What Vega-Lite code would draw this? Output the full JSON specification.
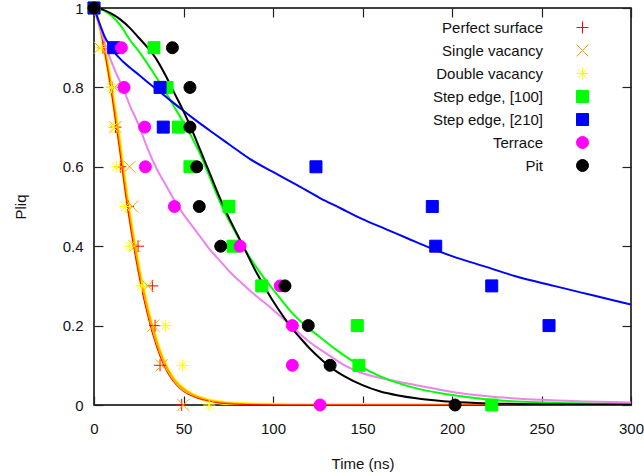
{
  "$schema": "https://vega.github.io/schema/vega-lite/v6.json",
  "width": 537,
  "height": 397,
  "autosize": {"type": "none"},
  "padding": {"left": 94, "top": 8, "right": 13, "bottom": 70},
  "background": "white",
  "config": {
    "view": {"stroke": "black", "strokeWidth": 1.5},
    "font": "Liberation Sans",
    "axis": {
      "grid": false,
      "domain": false,
      "tickSize": -9,
      "tickColor": "#222",
      "tickWidth": 1.2,
      "labelFlush": false,
      "labelFont": "Liberation Sans",
      "labelFontSize": 15,
      "labelColor": "#111",
      "titleFont": "Liberation Sans",
      "titleFontSize": 15,
      "titleFontWeight": "normal",
      "titleColor": "#111"
    },
    "legend": {
      "orient": "none",
      "legendX": 481,
      "legendY": 12,
      "labelAlign": "right",
      "labelOffset": -47,
      "labelFont": "Liberation Sans",
      "labelFontSize": 15,
      "labelColor": "#111",
      "labelLimit": 0,
      "rowPadding": 6,
      "padding": 0,
      "symbolStrokeWidth": 1,
      "symbolOpacity": 1
    }
  },
  "datasets": {
    "pts": [
      {"s": "Perfect surface", "t": 0, "p": 1}, {"s": "Perfect surface", "t": 5, "p": 0.9}, {"s": "Perfect surface", "t": 10, "p": 0.8}, {"s": "Perfect surface", "t": 12, "p": 0.7}, {"s": "Perfect surface", "t": 14.7, "p": 0.6}, {"s": "Perfect surface", "t": 19, "p": 0.5}, {"s": "Perfect surface", "t": 24.6, "p": 0.4}, {"s": "Perfect surface", "t": 32.6, "p": 0.3}, {"s": "Perfect surface", "t": 34.1, "p": 0.2}, {"s": "Perfect surface", "t": 36.9, "p": 0.1}, {"s": "Perfect surface", "t": 49, "p": 0},
      {"s": "Single vacancy", "t": 0, "p": 1}, {"s": "Single vacancy", "t": 3.2, "p": 0.9}, {"s": "Single vacancy", "t": 11.5, "p": 0.8}, {"s": "Single vacancy", "t": 12, "p": 0.7}, {"s": "Single vacancy", "t": 19.9, "p": 0.6}, {"s": "Single vacancy", "t": 21.4, "p": 0.5}, {"s": "Single vacancy", "t": 22.7, "p": 0.4}, {"s": "Single vacancy", "t": 30, "p": 0.3}, {"s": "Single vacancy", "t": 33.1, "p": 0.2}, {"s": "Single vacancy", "t": 37.8, "p": 0.1}, {"s": "Single vacancy", "t": 49.9, "p": 0},
      {"s": "Double vacancy", "t": 0, "p": 1}, {"s": "Double vacancy", "t": 4, "p": 0.9}, {"s": "Double vacancy", "t": 9.7, "p": 0.8}, {"s": "Double vacancy", "t": 10.6, "p": 0.7}, {"s": "Double vacancy", "t": 12.5, "p": 0.6}, {"s": "Double vacancy", "t": 17.5, "p": 0.5}, {"s": "Double vacancy", "t": 19.9, "p": 0.4}, {"s": "Double vacancy", "t": 26.6, "p": 0.3}, {"s": "Double vacancy", "t": 40, "p": 0.2}, {"s": "Double vacancy", "t": 49.5, "p": 0.1}, {"s": "Double vacancy", "t": 64.4, "p": 0},
      {"s": "Step edge, [100]", "t": 0, "p": 1}, {"s": "Step edge, [100]", "t": 33.5, "p": 0.9}, {"s": "Step edge, [100]", "t": 40.8, "p": 0.8}, {"s": "Step edge, [100]", "t": 47.2, "p": 0.7}, {"s": "Step edge, [100]", "t": 53.6, "p": 0.6}, {"s": "Step edge, [100]", "t": 75.4, "p": 0.5}, {"s": "Step edge, [100]", "t": 77.7, "p": 0.4}, {"s": "Step edge, [100]", "t": 93.7, "p": 0.3}, {"s": "Step edge, [100]", "t": 147.1, "p": 0.2}, {"s": "Step edge, [100]", "t": 148, "p": 0.1}, {"s": "Step edge, [100]", "t": 222.2, "p": 0},
      {"s": "Step edge, [210]", "t": 0, "p": 1}, {"s": "Step edge, [210]", "t": 11, "p": 0.9}, {"s": "Step edge, [210]", "t": 36.9, "p": 0.8}, {"s": "Step edge, [210]", "t": 38.7, "p": 0.7}, {"s": "Step edge, [210]", "t": 124, "p": 0.6}, {"s": "Step edge, [210]", "t": 189, "p": 0.5}, {"s": "Step edge, [210]", "t": 190.9, "p": 0.4}, {"s": "Step edge, [210]", "t": 222.2, "p": 0.3}, {"s": "Step edge, [210]", "t": 254.2, "p": 0.2},
      {"s": "Terrace", "t": 0, "p": 1}, {"s": "Terrace", "t": 15.3, "p": 0.9}, {"s": "Terrace", "t": 16.8, "p": 0.8}, {"s": "Terrace", "t": 28.3, "p": 0.7}, {"s": "Terrace", "t": 28.7, "p": 0.6}, {"s": "Terrace", "t": 44.9, "p": 0.5}, {"s": "Terrace", "t": 81.6, "p": 0.4}, {"s": "Terrace", "t": 104, "p": 0.3}, {"s": "Terrace", "t": 110.8, "p": 0.2}, {"s": "Terrace", "t": 110.8, "p": 0.1}, {"s": "Terrace", "t": 126.3, "p": 0},
      {"s": "Pit", "t": 0, "p": 1}, {"s": "Pit", "t": 43.8, "p": 0.9}, {"s": "Pit", "t": 53.6, "p": 0.8}, {"s": "Pit", "t": 53.6, "p": 0.7}, {"s": "Pit", "t": 57.4, "p": 0.6}, {"s": "Pit", "t": 58.8, "p": 0.5}, {"s": "Pit", "t": 70.8, "p": 0.4}, {"s": "Pit", "t": 106.7, "p": 0.3}, {"s": "Pit", "t": 119.7, "p": 0.2}, {"s": "Pit", "t": 131.9, "p": 0.1}, {"s": "Pit", "t": 201.7, "p": 0}
    ],
    "fitVac": [
      {"t": 0, "p": 1}, {"t": 2, "p": 0.975}, {"t": 4, "p": 0.94}, {"t": 6, "p": 0.895}, {"t": 8, "p": 0.845}, {"t": 10, "p": 0.79}, {"t": 12, "p": 0.73}, {"t": 14, "p": 0.67}, {"t": 16, "p": 0.6}, {"t": 18, "p": 0.535}, {"t": 20, "p": 0.475}, {"t": 22, "p": 0.42}, {"t": 24, "p": 0.37}, {"t": 26, "p": 0.32}, {"t": 28, "p": 0.28}, {"t": 30, "p": 0.24}, {"t": 32, "p": 0.205}, {"t": 34, "p": 0.175}, {"t": 36, "p": 0.145}, {"t": 38, "p": 0.12}, {"t": 40, "p": 0.1}, {"t": 43, "p": 0.075}, {"t": 46, "p": 0.057}, {"t": 50, "p": 0.04}, {"t": 55, "p": 0.026}, {"t": 60, "p": 0.017}, {"t": 65, "p": 0.011}, {"t": 70, "p": 0.007}, {"t": 80, "p": 0.003}, {"t": 90, "p": 0.001}, {"t": 110, "p": 0}, {"t": 300, "p": 0}
    ],
    "fitPerfect": [
      {"t": 0, "p": 1}, {"t": 2, "p": 0.972}, {"t": 4, "p": 0.935}, {"t": 6, "p": 0.888}, {"t": 8, "p": 0.835}, {"t": 10, "p": 0.778}, {"t": 12, "p": 0.715}, {"t": 14, "p": 0.652}, {"t": 16, "p": 0.585}, {"t": 18, "p": 0.518}, {"t": 20, "p": 0.458}, {"t": 22, "p": 0.402}, {"t": 24, "p": 0.352}, {"t": 26, "p": 0.305}, {"t": 28, "p": 0.263}, {"t": 30, "p": 0.225}, {"t": 32, "p": 0.19}, {"t": 34, "p": 0.16}, {"t": 36, "p": 0.133}, {"t": 38, "p": 0.11}, {"t": 40, "p": 0.09}, {"t": 43, "p": 0.067}, {"t": 46, "p": 0.05}, {"t": 50, "p": 0.034}, {"t": 55, "p": 0.022}, {"t": 60, "p": 0.014}, {"t": 65, "p": 0.009}, {"t": 70, "p": 0.005}, {"t": 80, "p": 0.002}, {"t": 90, "p": 0.001}, {"t": 110, "p": 0}, {"t": 300, "p": 0}
    ],
    "fitTerrace": [
      {"t": 0, "p": 1}, {"t": 4, "p": 0.94}, {"t": 8, "p": 0.885}, {"t": 12, "p": 0.84}, {"t": 16, "p": 0.8}, {"t": 20, "p": 0.755}, {"t": 25, "p": 0.705}, {"t": 30, "p": 0.645}, {"t": 35, "p": 0.595}, {"t": 40, "p": 0.555}, {"t": 45, "p": 0.515}, {"t": 50, "p": 0.48}, {"t": 55, "p": 0.45}, {"t": 60, "p": 0.42}, {"t": 65, "p": 0.39}, {"t": 70, "p": 0.365}, {"t": 76, "p": 0.335}, {"t": 83, "p": 0.305}, {"t": 90, "p": 0.277}, {"t": 100, "p": 0.24}, {"t": 110, "p": 0.2}, {"t": 120, "p": 0.16}, {"t": 128, "p": 0.135}, {"t": 140, "p": 0.1}, {"t": 150, "p": 0.08}, {"t": 160, "p": 0.068}, {"t": 180, "p": 0.05}, {"t": 200, "p": 0.033}, {"t": 220, "p": 0.022}, {"t": 250, "p": 0.013}, {"t": 275, "p": 0.009}, {"t": 300, "p": 0.006}
    ],
    "fitStep100": [
      {"t": 0, "p": 1}, {"t": 5, "p": 0.995}, {"t": 10, "p": 0.98}, {"t": 15, "p": 0.955}, {"t": 20, "p": 0.92}, {"t": 26, "p": 0.885}, {"t": 32, "p": 0.845}, {"t": 37, "p": 0.81}, {"t": 43, "p": 0.765}, {"t": 48, "p": 0.727}, {"t": 54, "p": 0.68}, {"t": 59, "p": 0.635}, {"t": 65, "p": 0.57}, {"t": 71, "p": 0.505}, {"t": 76, "p": 0.46}, {"t": 82, "p": 0.41}, {"t": 88, "p": 0.365}, {"t": 95, "p": 0.32}, {"t": 102, "p": 0.28}, {"t": 110, "p": 0.235}, {"t": 118, "p": 0.2}, {"t": 126, "p": 0.172}, {"t": 135, "p": 0.14}, {"t": 143, "p": 0.115}, {"t": 150, "p": 0.095}, {"t": 160, "p": 0.072}, {"t": 170, "p": 0.055}, {"t": 182, "p": 0.04}, {"t": 200, "p": 0.025}, {"t": 220, "p": 0.014}, {"t": 240, "p": 0.008}, {"t": 260, "p": 0.005}, {"t": 280, "p": 0.003}, {"t": 300, "p": 0.002}
    ],
    "fitStep210": [
      {"t": 0, "p": 1}, {"t": 2, "p": 0.975}, {"t": 4, "p": 0.95}, {"t": 6, "p": 0.927}, {"t": 9, "p": 0.905}, {"t": 12, "p": 0.885}, {"t": 16, "p": 0.866}, {"t": 20, "p": 0.85}, {"t": 25, "p": 0.832}, {"t": 30, "p": 0.813}, {"t": 35, "p": 0.795}, {"t": 40, "p": 0.777}, {"t": 48, "p": 0.748}, {"t": 56, "p": 0.72}, {"t": 66, "p": 0.687}, {"t": 76, "p": 0.655}, {"t": 87, "p": 0.62}, {"t": 100, "p": 0.587}, {"t": 113, "p": 0.555}, {"t": 126, "p": 0.522}, {"t": 138, "p": 0.495}, {"t": 150, "p": 0.468}, {"t": 163, "p": 0.443}, {"t": 175, "p": 0.42}, {"t": 188, "p": 0.395}, {"t": 200, "p": 0.375}, {"t": 219, "p": 0.348}, {"t": 235, "p": 0.325}, {"t": 257, "p": 0.3}, {"t": 278, "p": 0.277}, {"t": 300, "p": 0.253}
    ],
    "fitPit": [
      {"t": 0, "p": 1}, {"t": 5, "p": 0.996}, {"t": 10, "p": 0.985}, {"t": 15, "p": 0.97}, {"t": 20, "p": 0.95}, {"t": 25, "p": 0.925}, {"t": 30, "p": 0.9}, {"t": 35, "p": 0.87}, {"t": 40, "p": 0.83}, {"t": 45, "p": 0.785}, {"t": 50, "p": 0.74}, {"t": 55, "p": 0.69}, {"t": 60, "p": 0.635}, {"t": 65, "p": 0.58}, {"t": 70, "p": 0.525}, {"t": 75, "p": 0.475}, {"t": 80, "p": 0.43}, {"t": 85, "p": 0.385}, {"t": 90, "p": 0.34}, {"t": 95, "p": 0.3}, {"t": 100, "p": 0.262}, {"t": 105, "p": 0.228}, {"t": 110, "p": 0.197}, {"t": 115, "p": 0.17}, {"t": 120, "p": 0.145}, {"t": 125, "p": 0.123}, {"t": 130, "p": 0.103}, {"t": 135, "p": 0.086}, {"t": 140, "p": 0.072}, {"t": 150, "p": 0.05}, {"t": 160, "p": 0.034}, {"t": 170, "p": 0.024}, {"t": 180, "p": 0.017}, {"t": 190, "p": 0.012}, {"t": 200, "p": 0.008}, {"t": 220, "p": 0.004}, {"t": 250, "p": 0.002}, {"t": 300, "p": 0.0005}
    ]
  },
  "layer": [
    {
      "data": {"name": "fitVac"},
      "mark": {"type": "line", "color": "#ffff00", "strokeWidth": 4, "interpolate": "monotone", "clip": true},
      "encoding": {
        "x": {"field": "t", "type": "quantitative", "scale": {"domain": [0, 300], "nice": false}, "axis": {"orient": "top", "values": [0, 50, 100, 150, 200, 250, 300], "labels": false, "title": null}},
        "y": {"field": "p", "type": "quantitative", "scale": {"domain": [0, 1], "nice": false}, "axis": {"orient": "right", "values": [0, 0.2, 0.4, 0.6, 0.8, 1], "labels": false, "title": null}}
      }
    },
    {
      "data": {"name": "fitVac"},
      "mark": {"type": "line", "color": "#ffa500", "strokeWidth": 2, "interpolate": "monotone", "clip": true},
      "encoding": {
        "x": {"field": "t", "type": "quantitative", "axis": null},
        "y": {"field": "p", "type": "quantitative", "axis": null}
      }
    },
    {
      "data": {"name": "fitPerfect"},
      "mark": {"type": "line", "color": "#ff0000", "strokeWidth": 1, "interpolate": "monotone", "clip": true},
      "encoding": {
        "x": {"field": "t", "type": "quantitative", "axis": null},
        "y": {"field": "p", "type": "quantitative", "axis": null}
      }
    },
    {
      "data": {"name": "fitTerrace"},
      "mark": {"type": "line", "color": "#ee82ee", "strokeWidth": 2, "interpolate": "monotone", "clip": true},
      "encoding": {
        "x": {"field": "t", "type": "quantitative", "axis": null},
        "y": {"field": "p", "type": "quantitative", "axis": null}
      }
    },
    {
      "data": {"name": "fitStep100"},
      "mark": {"type": "line", "color": "#00ff00", "strokeWidth": 2, "interpolate": "monotone", "clip": true},
      "encoding": {
        "x": {"field": "t", "type": "quantitative", "axis": null},
        "y": {"field": "p", "type": "quantitative", "axis": null}
      }
    },
    {
      "data": {"name": "fitStep210"},
      "mark": {"type": "line", "color": "#0000ff", "strokeWidth": 2, "interpolate": "monotone", "clip": true},
      "encoding": {
        "x": {"field": "t", "type": "quantitative", "axis": null},
        "y": {"field": "p", "type": "quantitative", "axis": null}
      }
    },
    {
      "data": {"name": "fitPit"},
      "mark": {"type": "line", "color": "#000000", "strokeWidth": 2, "interpolate": "monotone", "clip": true},
      "encoding": {
        "x": {"field": "t", "type": "quantitative", "axis": null},
        "y": {"field": "p", "type": "quantitative", "axis": null}
      }
    },
    {
      "data": {"name": "pts"},
      "mark": {"type": "point", "opacity": 1, "strokeWidth": 1, "filled": false},
      "encoding": {
        "x": {"field": "t", "type": "quantitative", "axis": {"orient": "bottom", "values": [0, 50, 100, 150, 200, 250, 300], "labelPadding": 25, "title": "Time (ns)", "titlePadding": 20}},
        "y": {"field": "p", "type": "quantitative", "axis": {"orient": "left", "values": [0, 0.2, 0.4, 0.6, 0.8, 1], "format": ".1~f", "labelPadding": 20, "title": "Pliq", "titlePadding": 34}},
        "shape": {"field": "s", "type": "nominal", "title": null,
          "scale": {"domain": ["Perfect surface", "Single vacancy", "Double vacancy", "Step edge, [100]", "Step edge, [210]", "Terrace", "Pit"],
            "range": ["M-1,0L1,0M0,-1L0,1", "M-1,-1L1,1M-1,1L1,-1", "M-1,0L1,0M0,-1L0,1M-0.75,-0.75L0.75,0.75M-0.75,0.75L0.75,-0.75", "square", "square", "circle", "circle"]}},
        "color": {"field": "s", "type": "nominal", "title": null,
          "legend": {"encode": {"symbols": {"update": {"stroke": {"scale": "color", "field": "value"}, "strokeWidth": {"value": 1.2}, "opacity": {"value": 1}}}}},
          "scale": {"domain": ["Perfect surface", "Single vacancy", "Double vacancy", "Step edge, [100]", "Step edge, [210]", "Terrace", "Pit"],
            "range": ["#ff0000", "#ffa500", "#ffff00", "#00ff00", "#0000ff", "#ff00ff", "#000000"]}},
        "fill": {"field": "s", "type": "nominal", "title": null,
          "scale": {"domain": ["Perfect surface", "Single vacancy", "Double vacancy", "Step edge, [100]", "Step edge, [210]", "Terrace", "Pit"],
            "range": ["transparent", "transparent", "transparent", "#00ff00", "#0000ff", "#ff00ff", "#000000"]}},
        "size": {"field": "s", "type": "nominal", "title": null,
          "scale": {"domain": ["Perfect surface", "Single vacancy", "Double vacancy", "Step edge, [100]", "Step edge, [210]", "Terrace", "Pit"],
            "range": [144, 144, 144, 144, 144, 110, 110]}}
      }
    }
  ],
  "resolve": {"axis": {"x": "independent", "y": "independent"}}
}
